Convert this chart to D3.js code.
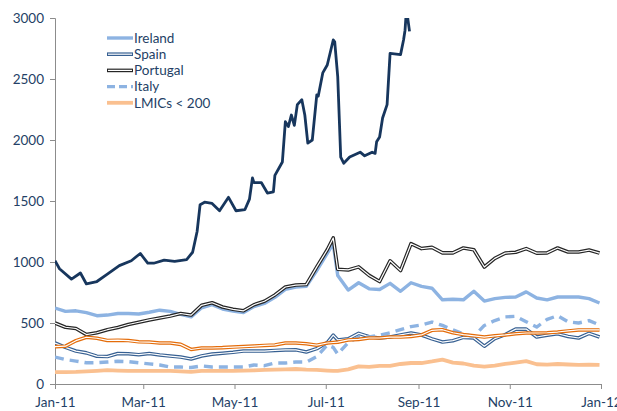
<!DOCTYPE html>
<html>
<head>
<meta charset="utf-8">
<script src="https://cdnjs.cloudflare.com/ajax/libs/d3/7.8.5/d3.min.js"></script>
<style>
  body { margin: 0; background: #fff; }
  .axis text { font-family: Lato, sans-serif; font-size: 13.5px; fill: #243f66; }
  .axis path, .axis line { stroke: #8c8c8c; }
  .legend text { font-family: Lato, sans-serif; font-size: 13.5px; fill: #243f66; }
</style>
</head>
<body>
<div id="chart-area"></div>
<script>
// Weekly observation dates (plus 6 Jul)
let dates = ['2011-01-01','2011-01-08','2011-01-15','2011-01-22','2011-01-29','2011-02-05','2011-02-12',
  '2011-02-19','2011-02-26','2011-03-05','2011-03-12','2011-03-19','2011-03-26','2011-04-02','2011-04-09',
  '2011-04-16','2011-04-23','2011-04-30','2011-05-07','2011-05-14','2011-05-21','2011-05-28','2011-06-04',
  '2011-06-11','2011-06-18','2011-06-25','2011-07-02','2011-07-06','2011-07-09','2011-07-16','2011-07-23',
  '2011-07-30','2011-08-06','2011-08-13','2011-08-20','2011-08-27','2011-09-03','2011-09-10','2011-09-17',
  '2011-09-24','2011-10-01','2011-10-08','2011-10-15','2011-10-22','2011-10-29','2011-11-05','2011-11-12',
  '2011-11-19','2011-11-26','2011-12-03','2011-12-10','2011-12-17','2011-12-24','2011-12-31'];

let ireland = [623,595,600,585,560,565,578,578,574,588,605,595,570,550,625,650,615,598,585,635,660,710,775,
  795,800,930,1070,1150,890,770,830,780,775,825,760,830,800,785,690,695,690,760,680,700,710,713,755,705,690,
  713,713,713,700,664];
let spain = [336,300,270,255,228,225,250,248,240,250,238,229,221,205,230,245,252,260,270,270,270,275,279,280,
  262,290,340,400,361,370,415,388,377,385,402,418,402,370,344,355,382,377,310,372,405,450,450,385,400,412,
  390,377,415,385];
let portugal = [500,465,455,405,420,445,463,488,506,525,541,557,578,565,645,666,631,612,600,650,678,730,795,
  811,815,960,1100,1197,940,935,960,890,840,1010,930,1150,1110,1120,1075,1075,1115,1100,959,1030,1073,1080,
  1110,1073,1075,1115,1082,1082,1098,1073];
let italy = [221,200,188,174,175,180,186,183,174,165,156,139,139,135,148,139,139,139,139,156,150,172,172,180,
  180,225,320,300,245,340,385,385,400,420,445,470,484,508,480,445,410,390,480,520,550,555,510,467,530,560,
  510,500,520,484];
let lmicsLow = [98,98,100,104,108,113,110,107,108,107,107,107,103,100,107,107,107,107,110,112,115,118,120,123,
  118,115,110,107,107,120,145,140,148,148,164,172,172,185,200,175,168,150,142,150,164,176,187,162,158,164,
  160,156,158,156];
let lmicsHigh = [306,310,355,383,375,357,359,356,346,344,336,336,325,283,295,295,298,303,307,311,316,320,336,
  336,330,318,336,340,343,361,366,377,377,385,385,390,402,440,445,420,405,395,385,395,402,412,418,418,420,
  426,435,443,443,443];

// Greece has its own, denser dates
let greeceDates = ['2011-01-01','2011-01-04','2011-01-12','2011-01-18','2011-01-22','2011-01-29','2011-02-05',
  '2011-02-13','2011-02-21','2011-02-27','2011-03-04','2011-03-08','2011-03-15','2011-03-22','2011-03-30',
  '2011-04-03','2011-04-06','2011-04-08','2011-04-11','2011-04-16','2011-04-21','2011-04-27','2011-05-02',
  '2011-05-08','2011-05-11','2011-05-13','2011-05-14','2011-05-19','2011-05-23','2011-05-27','2011-05-28',
  '2011-06-02','2011-06-04','2011-06-06','2011-06-08','2011-06-10','2011-06-12','2011-06-15','2011-06-17',
  '2011-06-19','2011-06-22','2011-06-25','2011-06-26','2011-06-29','2011-07-02','2011-07-06','2011-07-07',
  '2011-07-09','2011-07-11','2011-07-13','2011-07-17','2011-07-24','2011-07-27','2011-08-01','2011-08-03',
  '2011-08-04','2011-08-06','2011-08-08','2011-08-11','2011-08-13','2011-08-20','2011-08-22','2011-08-23',
  '2011-08-24','2011-08-25','2011-08-26'];
let greece = [1010,945,860,910,820,840,900,970,1010,1070,990,990,1015,1005,1020,1080,1250,1470,1490,1480,1420,
  1530,1420,1430,1515,1690,1650,1650,1565,1575,1710,1820,2150,2110,2205,2120,2290,2330,2205,1975,2000,2370,
  2360,2550,2615,2820,2805,2520,1860,1810,1860,1900,1870,1900,1890,1985,2025,2180,2290,2710,2700,2820,2900,
  3080,2980,2890];

// Axis ticks
let xTicks = ['Jan-11','Mar-11','May-11','Jul-11','Sep-11','Nov-11','Jan-12'];
let yTicks = [0, 500, 1000, 1500, 2000, 2500, 3000];

// Legend entries
let legendNames = ['Ireland', 'Spain', 'Portugal', 'Italy', 'LMICs < 200'];

// SVG drawing area
let margin = { top: 18, right: 16, bottom: 27, left: 55 };
let width = 617 - margin.left - margin.right,
  height = 411 - margin.top - margin.bottom;

let svg = d3
  .select('#chart-area')
  .append('svg')
  .attr('width', 617)
  .attr('height', 411)
  .append('g')
  .attr('transform', 'translate(' + margin.left + ',' + margin.top + ')');

let parseDate = d3.timeParse('%Y-%m-%d');
let parseTick = d3.timeParse('%b-%y');
let formatTick = d3.timeFormat('%b-%y');

// Scales
let x = d3.scaleTime()
  .domain([parseTick('Jan-11'), parseTick('Jan-12')])
  .range([0, width]);
let y = d3.scaleLinear().domain([0, 3000]).range([height, 0]);

// Axes
svg.append('g')
  .attr('class', 'axis x-axis')
  .attr('transform', `translate(0, ${height})`)
  .call(d3.axisBottom(x).tickValues(xTicks.map(parseTick)).tickFormat(formatTick)
    .tickSizeOuter(0).tickSize(5).tickPadding(8));
svg.append('g')
  .attr('class', 'axis y-axis')
  .call(d3.axisLeft(y).tickValues(yTicks).tickFormat(d3.format('d'))
    .tickSizeOuter(0).tickSize(5).tickPadding(6));

// Clip so Greece is cut at the top
svg.append('clipPath').attr('id', 'plot-clip')
  .append('rect').attr('x', 0).attr('y', 0).attr('width', width).attr('height', height);

let line = d3.line()
  .x(d => x(d.date))
  .y(d => y(d.value))
  .curve(d3.curveLinear);

const toPoints = (ds, vs) => ds.map((d, i) => ({ date: parseDate(d), value: vs[i] }));

let plot = svg.append('g').attr('clip-path', 'url(#plot-clip)');

// Series styles, drawn in this order
let series = [
  { values: toPoints(greeceDates, greece), color: '#17365d', w: 2.8 },
  { values: toPoints(dates, ireland), color: '#8db3e2', w: 3.4 },
  { values: toPoints(dates, spain), color: '#376092', w: 3.6, inner: true },
  { values: toPoints(dates, portugal), color: '#262626', w: 3.6, inner: true },
  { values: toPoints(dates, italy), color: '#8db3e2', w: 3.4, dash: '9,6' },
  { values: toPoints(dates, lmicsLow), color: '#fac090', w: 3.8 },
  { values: toPoints(dates, lmicsHigh), color: '#e46c0a', w: 3.6, inner: true }
];

series.forEach(s => {
  plot.append('path')
    .datum(s.values)
    .attr('fill', 'none')
    .attr('stroke', s.color)
    .attr('stroke-width', s.w)
    .attr('stroke-linejoin', 'round')
    .attr('stroke-dasharray', s.dash || null)
    .attr('d', line);
  if (s.inner) {
    plot.append('path')
      .datum(s.values)
      .attr('fill', 'none')
      .attr('stroke', '#fff')
      .attr('stroke-width', 1.2)
      .attr('stroke-linejoin', 'round')
      .attr('d', line);
  }
});

// Legend
let legendStyle = [series[1], series[2], series[3], series[4], series[5]];
let legend = svg.append('g').attr('class', 'legend')
  .attr('transform', 'translate(' + (107 - margin.left) + ',' + (38 - margin.top) + ')');

legendNames.forEach((name, i) => {
  let s = legendStyle[i];
  let g = legend.append('g').attr('transform', `translate(0, ${i * 16.2})`);
  g.append('line')
    .attr('x1', 0).attr('x2', 26).attr('y1', 0).attr('y2', 0)
    .attr('stroke', s.color)
    .attr('stroke-width', s.w)
    .attr('stroke-dasharray', s.dash ? '8,4' : null);
  if (s.inner) {
    g.append('line')
      .attr('x1', 1).attr('x2', 25).attr('y1', 0).attr('y2', 0)
      .attr('stroke', '#fff').attr('stroke-width', 1.2);
  }
  g.append('text').attr('x', 27).attr('y', 0).attr('dy', '0.35em').text(name);
});
</script>
</body>
</html>
